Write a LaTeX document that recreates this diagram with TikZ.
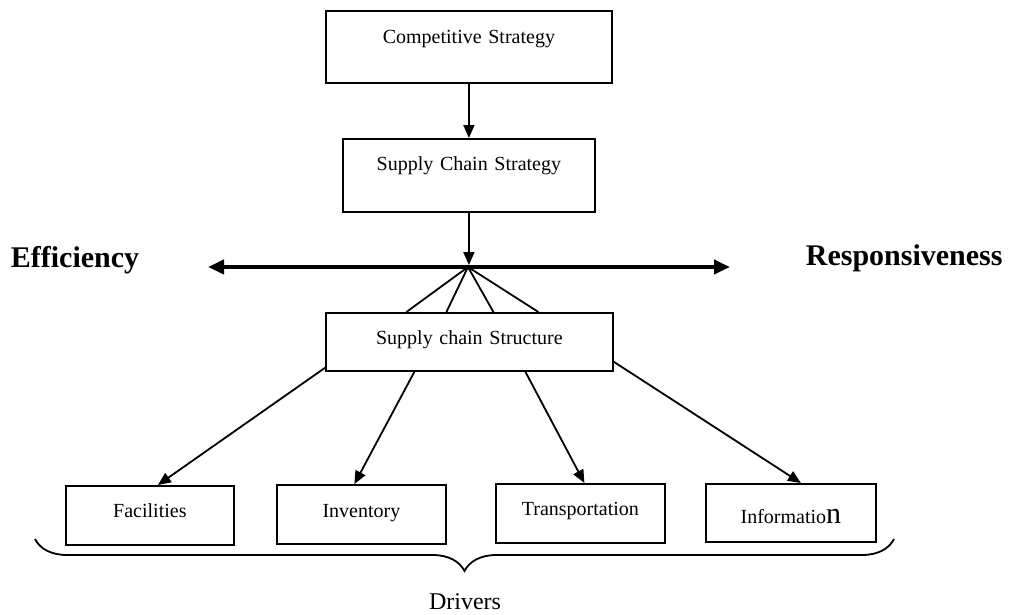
\documentclass[tikz,border=0pt]{standalone}
\usepackage{fontspec}
\setmainfont{Liberation Serif}
\usetikzlibrary{arrows.meta,decorations.pathreplacing,calc}
\begin{document}
\begin{tikzpicture}[x=1pt,y=-1pt,line width=1.8pt,
  box/.style={draw,rectangle,inner xsep=0pt,inner ysep=0pt,align=center,
    anchor=north west,font=\fontsize{20}{20}\selectfont},
  arr/.style={-{Triangle[length=13pt,width=11pt]}},
  side/.style={font=\fontsize{30}{30}\selectfont\bfseries,anchor=base west,inner sep=0pt},
]
\useasboundingbox (0,0) rectangle (1010,614);

% strategy boxes
\node[box,text width=286pt,text height=33pt,text depth=39pt] (cs) at (325,10) {Competitive Strategy};
\node[box,text width=252pt,text height=32pt,text depth=41pt] (scs) at (342,138) {Supply Chain Strategy};
\node[box,text width=287pt,text height=32pt,text depth=26pt] (struct) at (325,312) {Supply chain Structure};

% driver boxes
\node[box,text width=168pt,text height=32pt,text depth=27pt] (fac) at (65,485) {Facilities};
\node[box,text width=169pt,text height=33pt,text depth=26pt] (inv) at (276,484) {Inventory};
\node[box,text width=169pt,text height=32pt,text depth=27pt] (trans) at (495,483) {Transportation};
\node[box,text width=170pt,text height=40pt,text depth=18pt] (info) at (705,483) {Informatio{\fontsize{30}{30}\selectfont n}};

% trade-off axis
\node[side] (eff) at (10,267) {Efficiency};
\node[side] (resp) at (805,265) {Responsiveness};
\coordinate (axL) at (208,267);
\coordinate (axR) at (730,267);
\coordinate (hub) at (468,267);
\draw[line width=4pt,{Triangle[length=16pt,width=14pt]}-{Triangle[length=16pt,width=14pt]}] (axL) -- (axR);

% strategy flow
\draw[arr] (cs.south) -- (scs.north);
\draw[arr] (scs.south) -- ($(scs.south |- hub)+(0,-2)$);

% fan into the structure box
\foreach \dx in {-63,-23,24,69}
  \draw (hub) -- ($(struct.north)+(\dx,0)$);

% structure to drivers
\draw[arr] ($(struct.south west)+(0,-4)$) -- ($(fac.north)+(8,0)$);
\draw[arr] ($(struct.south)+(-55,0)$) -- ($(inv.north)+(-7,0)$);
\draw[arr] ($(struct.south)+(56,0)$) -- ($(trans.north)+(4,0)$);
\draw[arr] ($(struct.south east)+(0,-10)$) -- ($(info.north)+(10,0)$);

% drivers brace
\coordinate (brL) at (35,539);
\coordinate (brR) at (894,539);
\draw[decorate,decoration={brace,mirror,amplitude=32pt}] (brL) -- (brR);
\node[font=\fontsize{24}{24}\selectfont,anchor=base,inner sep=0pt] (drv) at (465,609) {Drivers};
\end{tikzpicture}
\end{document}
